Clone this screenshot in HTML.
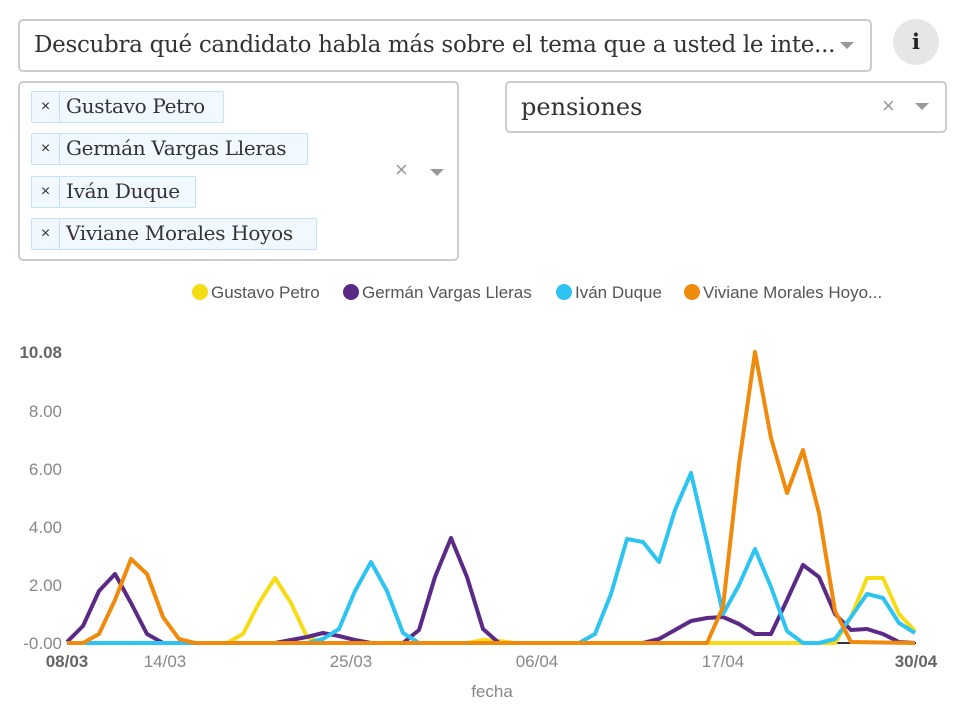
<!DOCTYPE html>
<html><head><meta charset="utf-8"><style>
body{margin:0;width:970px;height:709px;background:#fff;position:relative;overflow:hidden;font-family:"Liberation Sans",sans-serif}
.box{position:absolute;border:2px solid #ccc;border-radius:5px;box-sizing:border-box;background:#fff}
.serif{font-family:"DejaVu Serif","Liberation Serif",serif;color:#333}
.tag{position:absolute;left:11px;height:32px;border:1px solid #c2e0ff;background:#f2f8ff;border-radius:2px;box-sizing:border-box;font-family:"DejaVu Serif",serif;font-size:20px;color:#333;white-space:nowrap}
.tag .x{display:inline-block;width:27px;text-align:center;border-right:1px solid #c2e0ff;height:30px;line-height:30px;font-family:"Liberation Sans",sans-serif;font-size:16px;vertical-align:top}
.tag .t{display:inline-block;padding:0 8px 0 6px;line-height:29px;vertical-align:top;letter-spacing:-0.3px}
.caret{position:absolute;width:0;height:0;border-left:7px solid transparent;border-right:7px solid transparent;border-top:7px solid #999}
</style></head><body>
<div class="box serif" style="left:18px;top:19px;width:854px;height:53px;font-size:23px;line-height:49px;padding-left:14px;letter-spacing:-0.3px">Descubra qué candidato habla más sobre el tema que a usted le inte...</div>
<div class="caret" style="left:840px;top:42px"></div>
<div style="position:absolute;left:893px;top:19px;width:46px;height:46px;border-radius:50%;background:#e6e6e6;text-align:center;line-height:46px;font-family:'DejaVu Serif',serif;font-weight:bold;font-size:21px;color:#222">i</div>
<div class="box" style="left:18px;top:81px;width:441px;height:180px">
<div class="tag" style="top:8px;width:193px"><span class="x">×</span><span class="t">Gustavo Petro</span></div>
<div class="tag" style="top:50px;width:277px"><span class="x">×</span><span class="t">Germán Vargas Lleras</span></div>
<div class="tag" style="top:93px;width:165px"><span class="x">×</span><span class="t">Iván Duque</span></div>
<div class="tag" style="top:135px;width:286px"><span class="x">×</span><span class="t">Viviane Morales Hoyos</span></div>
<div style="position:absolute;left:375px;top:74px;color:#999;font-size:22px">×</div>
<div class="caret" style="left:410px;top:86px"></div>
</div>
<div class="box serif" style="left:505px;top:81px;width:442px;height:52px;font-size:24px;line-height:48px;padding-left:14px">pensiones</div>
<div style="position:absolute;left:882px;top:93px;color:#999;font-size:22px">×</div>
<div class="caret" style="left:915px;top:103px"></div>
<svg width="970" height="709" style="position:absolute;left:0;top:0" font-family="Liberation Sans, sans-serif">
<g font-size="17" fill="#555">
<circle cx="200" cy="292" r="8" fill="#f5dc16"/><text x="211" y="298">Gustavo Petro</text>
<circle cx="351" cy="292" r="8" fill="#5b2a86"/><text x="362" y="298">Germán Vargas Lleras</text>
<circle cx="564" cy="292" r="8" fill="#2ec4f2"/><text x="575" y="298">Iván Duque</text>
<circle cx="692" cy="292" r="8" fill="#f08a0c"/><text x="703" y="298">Viviane Morales Hoyo...</text>
</g>
<g font-size="17" fill="#888" text-anchor="end">
<text x="62" y="358" font-weight="bold" fill="#666">10.08</text>
<text x="62" y="417">8.00</text>
<text x="62" y="475">6.00</text>
<text x="62" y="533">4.00</text>
<text x="62" y="591">2.00</text>
<text x="62" y="649">-0.00</text>
</g>
<g font-size="17" fill="#888" text-anchor="middle">
<text x="67" y="667" font-weight="bold" fill="#666">08/03</text>
<text x="165" y="667">14/03</text>
<text x="351" y="667">25/03</text>
<text x="537" y="667">06/04</text>
<text x="723" y="667">17/04</text>
<text x="916" y="667" font-weight="bold" fill="#666">30/04</text>
<text x="492" y="697">fecha</text>
</g>
<line x1="67" y1="643" x2="916" y2="643" stroke="#333" stroke-width="2"/>
<g fill="none" stroke-width="4" stroke-linejoin="round">
<polyline stroke="#f5dc16" points="67,643 227,643 243,634 259,603 275,578 291,603 307,637 323,643 467,643 483,640 499,641 515,643 835,643 851,617 867,578 883,578 899,614 915,631"/>
<polyline stroke="#5b2a86" points="67,642 83,626 99,591 115,574 131,603 147,634 163,643 275,643 291,640 307,637 323,633 339,636 355,640 371,643 403,643 419,630 435,577 451,538 467,577 483,629 499,643 643,643 659,639 675,630 691,621 707,618 723,617 739,624 755,634 771,634 787,600 803,565 819,577 835,614 851,630 867,629 883,634 899,642 915,643"/>
<polyline stroke="#2ec4f2" points="67,643 307,643 323,639 339,629 355,591 371,562 387,591 403,633 419,643 579,643 595,634 611,594 627,539 643,542 659,562 675,510 691,473 707,542 723,614 739,585 755,549 771,587 787,631 803,643 819,643 835,639 851,617 867,594 883,598 899,623 915,633"/>
<polyline stroke="#f08a0c" points="67,643 83,643 99,634 115,600 131,559 147,574 163,617 179,639 195,643 707,643 723,607 739,464 755,352 771,438 787,493 803,450 819,513 835,611 851,642 915,643"/>
</g>
</svg>
</body></html>
